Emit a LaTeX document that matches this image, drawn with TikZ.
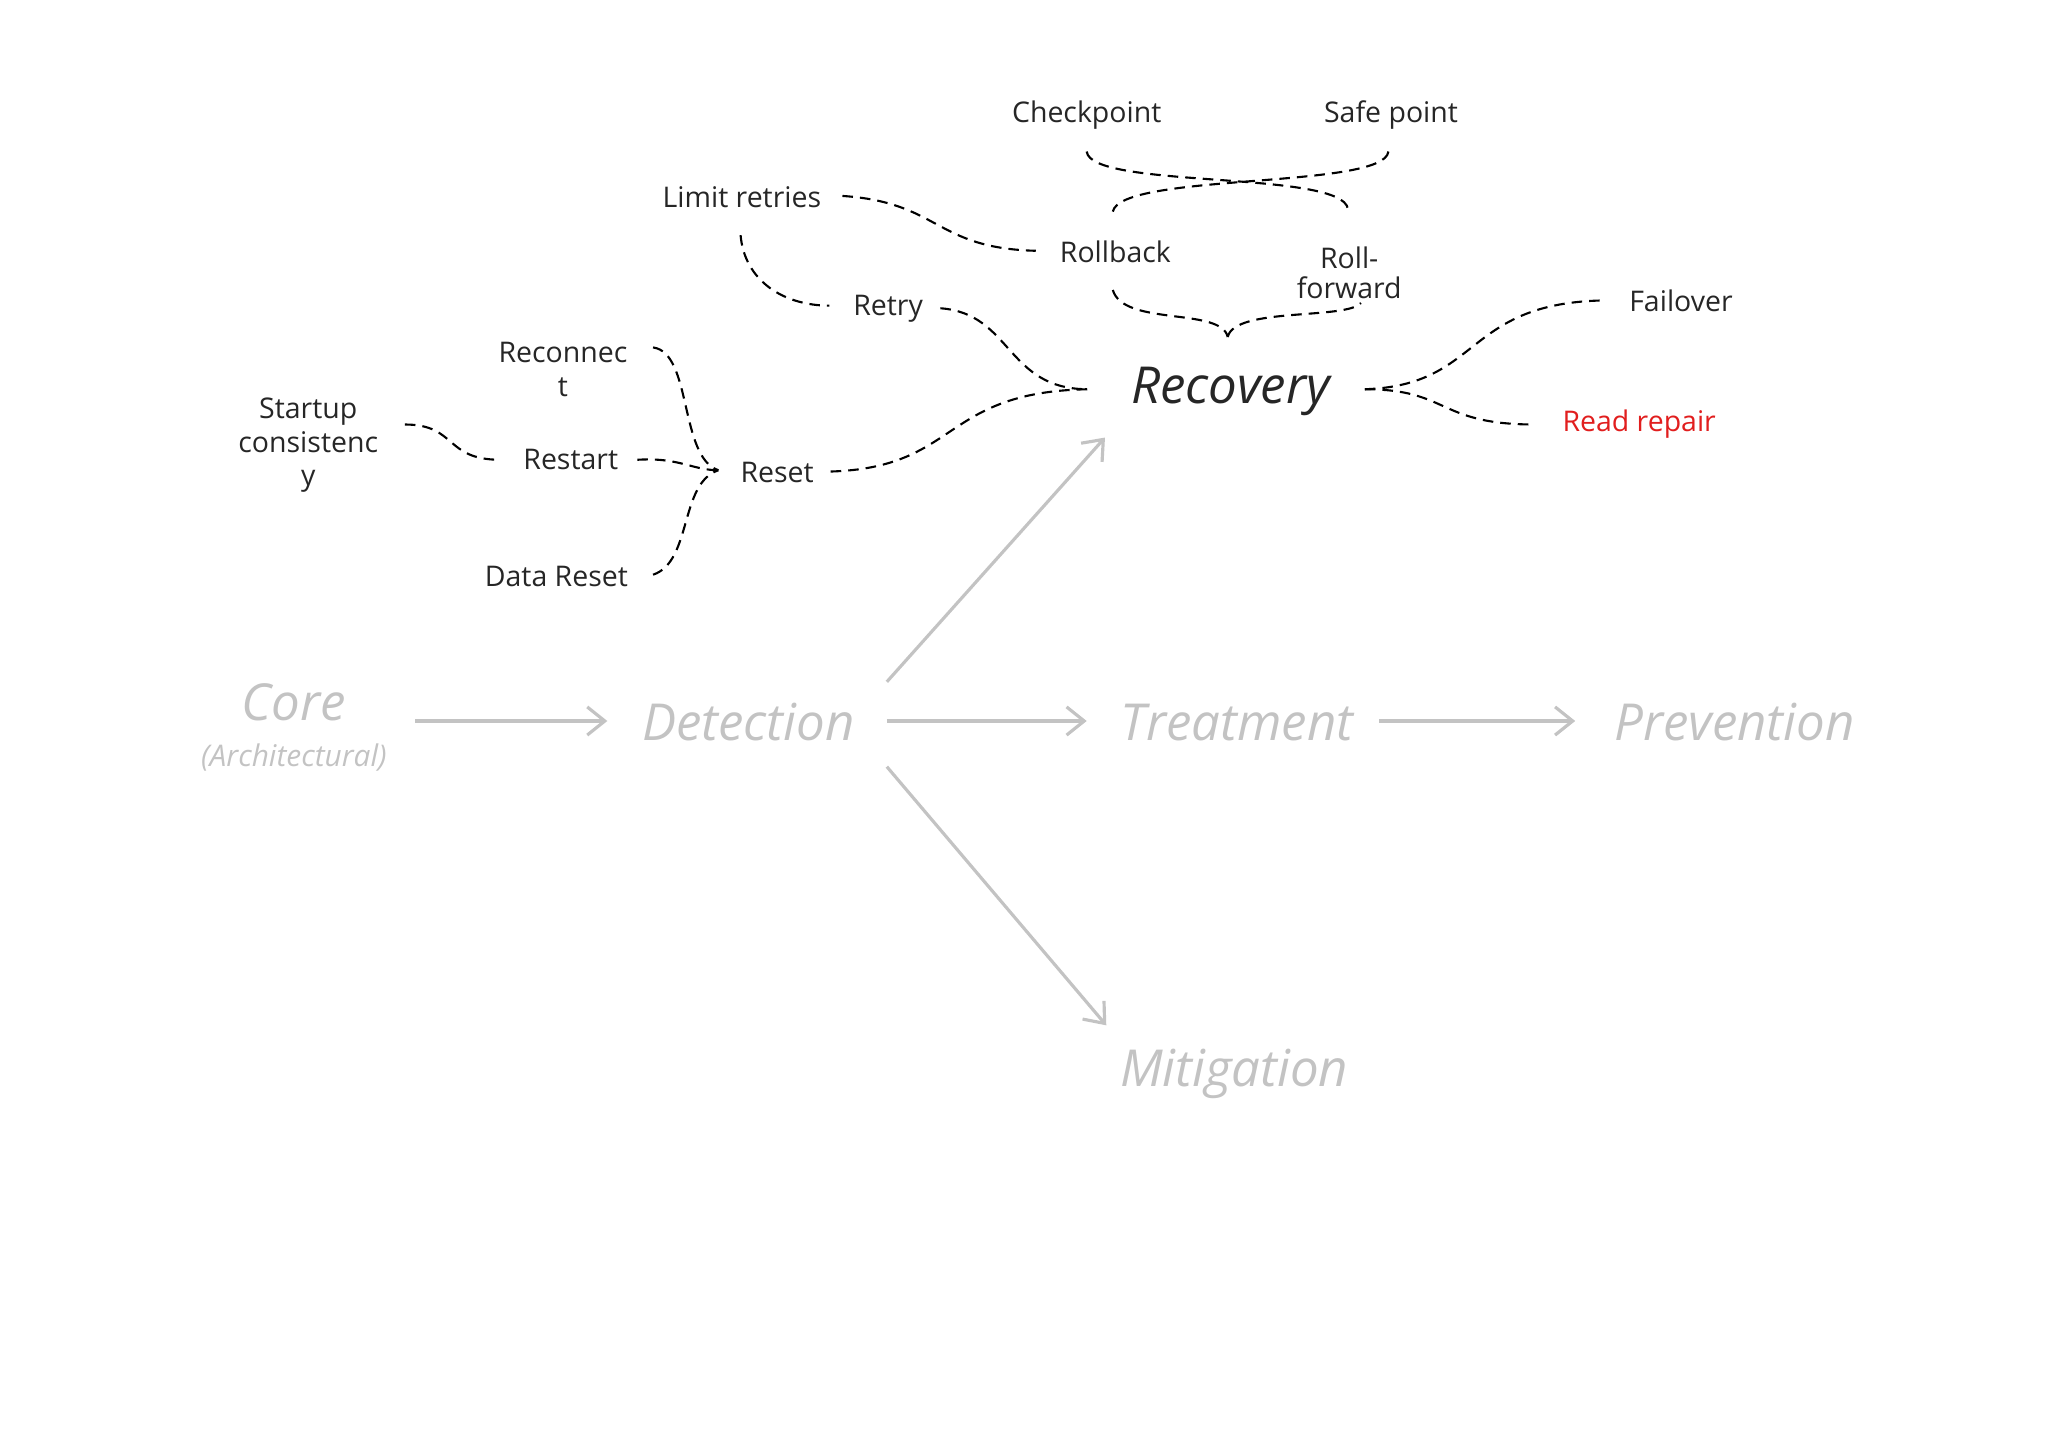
\documentclass[tikz,border=0pt]{standalone}
\usepackage{fontspec}
\setmainfont{Open Sans}
\usetikzlibrary{arrows.meta}
\definecolor{lg}{RGB}{195,195,195}
\definecolor{rr}{RGB}{225,30,30}
\begin{document}
\begin{tikzpicture}[x=0.01306cm,y=-0.01306cm,
  big/.style={font=\fontsize{14.5}{16}\selectfont\itshape, text=lg, inner sep=0},
  lbl/.style={font=\fontsize{8.1}{10.5}\selectfont, text=black!85, align=center, inner sep=0},
  garr/.style={draw=lg, line width=0.9pt, -{Straight Barb[length=5pt,width=8pt]}},
  dl/.style={dashed, line width=0.6pt, dash pattern=on 3pt off 2pt}]
\useasboundingbox (0,0) rectangle (1568,1110);
% main nodes
\node[big] (core) at (225,538) {Core};
\node[font=\fontsize{8.5}{10}\selectfont\itshape, text=lg] (arch) at (225,580) {(Architectural)};
\node[big] (det) at (573,553) {Detection};
\node[big] (treat) at (947,553) {Treatment};
\node[big] (prev) at (1328,553) {Prevention};
\node[big] (mit) at (945,822) {Mitigation};
\node[big, text=black!85] (rec) at (942,300) {Recovery};
% gray arrows
\coordinate (c1) at (318,552); \coordinate (c2) at (465,552);
\coordinate (d1) at (679,552); \coordinate (d2) at (832,552);
\coordinate (t1) at (1056,552); \coordinate (t2) at (1206,552);
\coordinate (u1) at (679,522); \coordinate (u2) at (846,335);
\coordinate (m1) at (679,587); \coordinate (m2) at (847,785);
\draw[garr] (c1) -- (c2);
\draw[garr] (d1) -- (d2);
\draw[garr] (t1) -- (t2);
\draw[garr] (u1) -- (u2);
\draw[garr] (m1) -- (m2);
% labels
\node[lbl] (cp) at (832,88) {Checkpoint};
\node[lbl] (sp) at (1065,88) {Safe point};
\node[lbl] (lr) at (568,151) {Limit retries};
\node[lbl] (rb) at (854,193) {Rollback};
\node[lbl] (rf) at (1033,209) {Roll-\\[-2pt]forward};
\node[lbl] (retry) at (680,236) {Retry};
\node[lbl] (fo) at (1287,230) {Failover};
\node[lbl, text=rr] (rrp) at (1255,325) {Read repair};
\node[lbl] (recon) at (431,283) {Reconnec\\[-1pt]t};
\node[lbl] (start) at (236,341) {Startup\\[-1pt]consistenc\\[-1pt]y};
\node[lbl] (restart) at (437,352) {Restart};
\node[lbl] (reset) at (595,362) {Reset};
\node[lbl] (dr) at (426,441) {Data Reset};
% connector end points
\coordinate (lrE) at (645,150); \coordinate (rbW) at (793,192);
\coordinate (lrS) at (567,180); \coordinate (retW) at (635,234);
\coordinate (retE) at (720,236); \coordinate (resE) at (636,361);
\coordinate (foW) at (1228,230); \coordinate (rrW) at (1175,325);
\coordinate (recE) at (500,266); \coordinate (drE) at (500,440);
\coordinate (rsE) at (488,352); \coordinate (rsW) at (383,352);
\coordinate (stE) at (310,325);
\coordinate (rl) at (833,298); \coordinate (rr2) at (1045,298);
\coordinate (tip) at (940,258); \coordinate (rtip) at (550,360);
% dashed connectors
\draw[dl] (lrE) .. controls (720,155) and (715,190) .. (rbW);
\draw[dl] (lrS) .. controls (570,215) and (600,234) .. (retW);
\draw[dl] (retE) .. controls (775,240) and (770,298) .. (rl);
\draw[dl] (resE) .. controls (735,358) and (720,300) .. (rl);
\draw[dl] (rr2) .. controls (1135,295) and (1120,232) .. (foW);
\draw[dl] (rr2) .. controls (1110,298) and (1100,325) .. (rrW);
\draw[dl] (852,222) .. controls (860,250) and (935,235) .. (tip);
\draw[dl] (tip) .. controls (945,235) and (1030,245) .. (1042,232);
\draw[dl] (832,116) .. controls (835,145) and (1028,130) .. (1032,160);
\draw[dl] (1063,116) .. controls (1060,145) and (858,132) .. (852,162);
\draw[dl] (recE) .. controls (530,270) and (520,350) .. (rtip);
\draw[dl] (drE) .. controls (530,430) and (520,370) .. (rtip);
\draw[dl] (rsE) .. controls (520,350) and (530,360) .. (rtip);
\draw[dl] (stE) .. controls (350,325) and (340,352) .. (rsW);
\end{tikzpicture}
\end{document}
